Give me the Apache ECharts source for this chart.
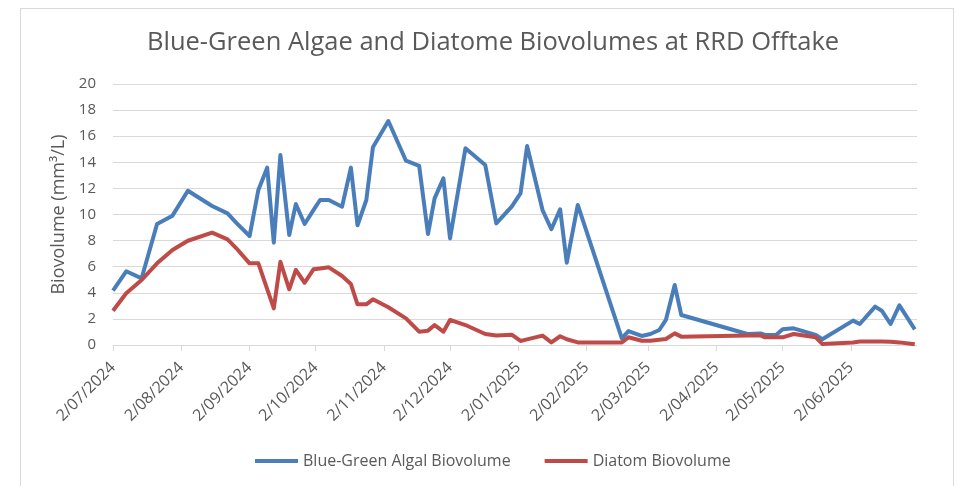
<!DOCTYPE html>
<html>
<head>
<meta charset="utf-8">
<script src="https://cdn.jsdelivr.net/npm/echarts@6/dist/echarts.min.js"></script>
<style>
  html, body { margin: 0; padding: 0; background: #fff; }
  #frame { position: absolute; left: 20px; top: 8px; width: 932px; height: 490px; border: 1px solid #d9d9d9; }
  #chart { position: absolute; left: 0; top: 0; width: 955px; height: 486px; }
</style>
</head>
<body>
<div id="frame"></div>
<div id="chart"></div>
<script>
// sample dates (both series share them)
const sampleDates = [
    '2024-07-02', '2024-07-08', '2024-07-15', '2024-07-22', '2024-07-29', '2024-08-05',
    '2024-08-16', '2024-08-23', '2024-08-27', '2024-09-02', '2024-09-06', '2024-09-10',
    '2024-09-13', '2024-09-16', '2024-09-20', '2024-09-23', '2024-09-27', '2024-10-01',
    '2024-10-04', '2024-10-08', '2024-10-14', '2024-10-18', '2024-10-21', '2024-10-25',
    '2024-10-28', '2024-11-04', '2024-11-12', '2024-11-18', '2024-11-22', '2024-11-25',
    '2024-11-29', '2024-12-02', '2024-12-09', '2024-12-18', '2024-12-23', '2024-12-30',
    '2025-01-03', '2025-01-06', '2025-01-13', '2025-01-17', '2025-01-21', '2025-01-24',
    '2025-01-29', '2025-02-18', '2025-02-21', '2025-02-27', '2025-03-03', '2025-03-07',
    '2025-03-10', '2025-03-14', '2025-03-17', '2025-04-16', '2025-04-22', '2025-04-24',
    '2025-04-29', '2025-05-02', '2025-05-07', '2025-05-17', '2025-05-20', '2025-06-03',
    '2025-06-06', '2025-06-13', '2025-06-16', '2025-06-20', '2025-06-24', '2025-07-01'
];

const blueGreen = [
    4.16, 5.65, 5.11, 9.27, 9.91, 11.82,
    10.65, 10.09, 9.36, 8.35, 11.88, 13.59,
    7.84, 14.56, 8.43, 10.8, 9.27, 10.34,
    11.11, 11.11, 10.6, 13.59, 9.17, 11.11,
    15.15, 17.16, 14.12, 13.72, 8.5, 11.24,
    12.77, 8.17, 15.07, 13.79, 9.32, 10.6,
    11.62, 15.25, 10.34, 8.87, 10.4, 6.31,
    10.73, 0.51, 1.07, 0.69, 0.84, 1.15,
    1.92, 4.6, 2.3, 0.84, 0.89, 0.77,
    0.77, 1.2, 1.28, 0.77, 0.44, 1.87,
    1.61, 2.94, 2.63, 1.61, 3.04, 1.2
];

const diatom = [
    2.63, 3.96, 4.98, 6.26, 7.28, 7.99,
    8.61, 8.1, 7.41, 6.26, 6.26, 4.28,
    2.81, 6.38, 4.27, 5.75, 4.77, 5.8,
    5.87, 5.95, 5.29, 4.67, 3.12, 3.12,
    3.5, 2.89, 2.04, 1.02, 1.1, 1.53,
    1.02, 1.92, 1.53, 0.84, 0.72, 0.79,
    0.31, 0.43, 0.72, 0.2, 0.67, 0.44,
    0.2, 0.2, 0.59, 0.33, 0.33, 0.4,
    0.46, 0.89, 0.64, 0.72, 0.74, 0.59,
    0.59, 0.59, 0.84, 0.59, 0.08, 0.2,
    0.26, 0.26, 0.26, 0.24, 0.2, 0.05
];

// x-axis tick labels (2nd of each month)
const monthTicks = [
    '2024-07-02', '2024-08-02', '2024-09-02', '2024-10-02', '2024-11-02', '2024-12-02',
    '2025-01-02', '2025-02-02', '2025-03-02', '2025-04-02', '2025-05-02', '2025-06-02'
];

const yTicks = [0, 2, 4, 6, 8, 10, 12, 14, 16, 18, 20];

const toTime = (s) => {
    const p = s.split('-').map(Number);
    return new Date(p[0], p[1] - 1, p[2]).getTime();
};
const tickTimes = monthTicks.map(toTime);
const pad = (n) => (n < 10 ? '0' + n : '' + n);

const chart = echarts.init(document.getElementById('chart'));
const textColor = '#595959';
const font = '"Open Sans", "Noto Sans", sans-serif';

const option = {
    backgroundColor: 'transparent',
    animation: false,
    title: {
        text: 'Blue-Green Algae and Diatome Biovolumes at RRD Offtake',
        left: 142,
        top: 25,
        textStyle: { color: textColor, fontSize: 25.5, fontWeight: 'normal', fontFamily: font }
    },
    legend: {
        bottom: 12,
        left: 250,
        icon: 'rect',
        itemWidth: 43,
        itemHeight: 4,
        itemGap: 34,
        textStyle: { color: textColor, fontSize: 16, fontFamily: font },
        data: ['Blue-Green Algal Biovolume', 'Diatom Biovolume']
    },
    grid: { left: 113, right: 38, top: 84, bottom: 141 },
    xAxis: {
        // dates as timestamps on a value axis, so ticks can sit on the 2nd of each month
        type: 'value',
        min: toTime('2024-07-02'),
        max: toTime('2025-07-02'),
        axisLine: { lineStyle: { color: '#d9d9d9', width: 1 } },
        axisTick: { show: true, customValues: tickTimes, length: 6, lineStyle: { color: '#d9d9d9' } },
        splitLine: { show: false },
        axisLabel: {
            customValues: tickTimes,
            rotate: 45,
            color: textColor,
            fontSize: 16,
            fontFamily: font,
            margin: 20,
            formatter: (v) => {
                const d = new Date(v);
                return d.getDate() + '/' + pad(d.getMonth() + 1) + '/' + d.getFullYear();
            }
        }
    },
    yAxis: {
        type: 'value',
        min: yTicks[0],
        max: yTicks[yTicks.length - 1],
        interval: 2,
        name: 'Biovolume (mm³/L)',
        nameLocation: 'middle',
        nameGap: 41,
        nameTextStyle: { color: textColor, fontSize: 18, fontFamily: font },
        axisLine: { show: false },
        axisTick: { show: false },
        axisLabel: { color: textColor, fontSize: 15, fontFamily: font, margin: 17 },
        splitLine: { lineStyle: { color: '#d9d9d9', width: 1 } }
    },
    series: [
        {
            name: 'Blue-Green Algal Biovolume',
            type: 'line',
            symbol: 'none',
            data: sampleDates.map((d, i) => [toTime(d), blueGreen[i]]),
            lineStyle: { color: '#4a7ebb', width: 4, join: 'round' },
            itemStyle: { color: '#4a7ebb' }
        },
        {
            name: 'Diatom Biovolume',
            type: 'line',
            symbol: 'none',
            data: sampleDates.map((d, i) => [toTime(d), diatom[i]]),
            lineStyle: { color: '#be4b48', width: 4, join: 'round' },
            itemStyle: { color: '#be4b48' }
        }
    ]
};

chart.setOption(option);
</script>
</body>
</html>
